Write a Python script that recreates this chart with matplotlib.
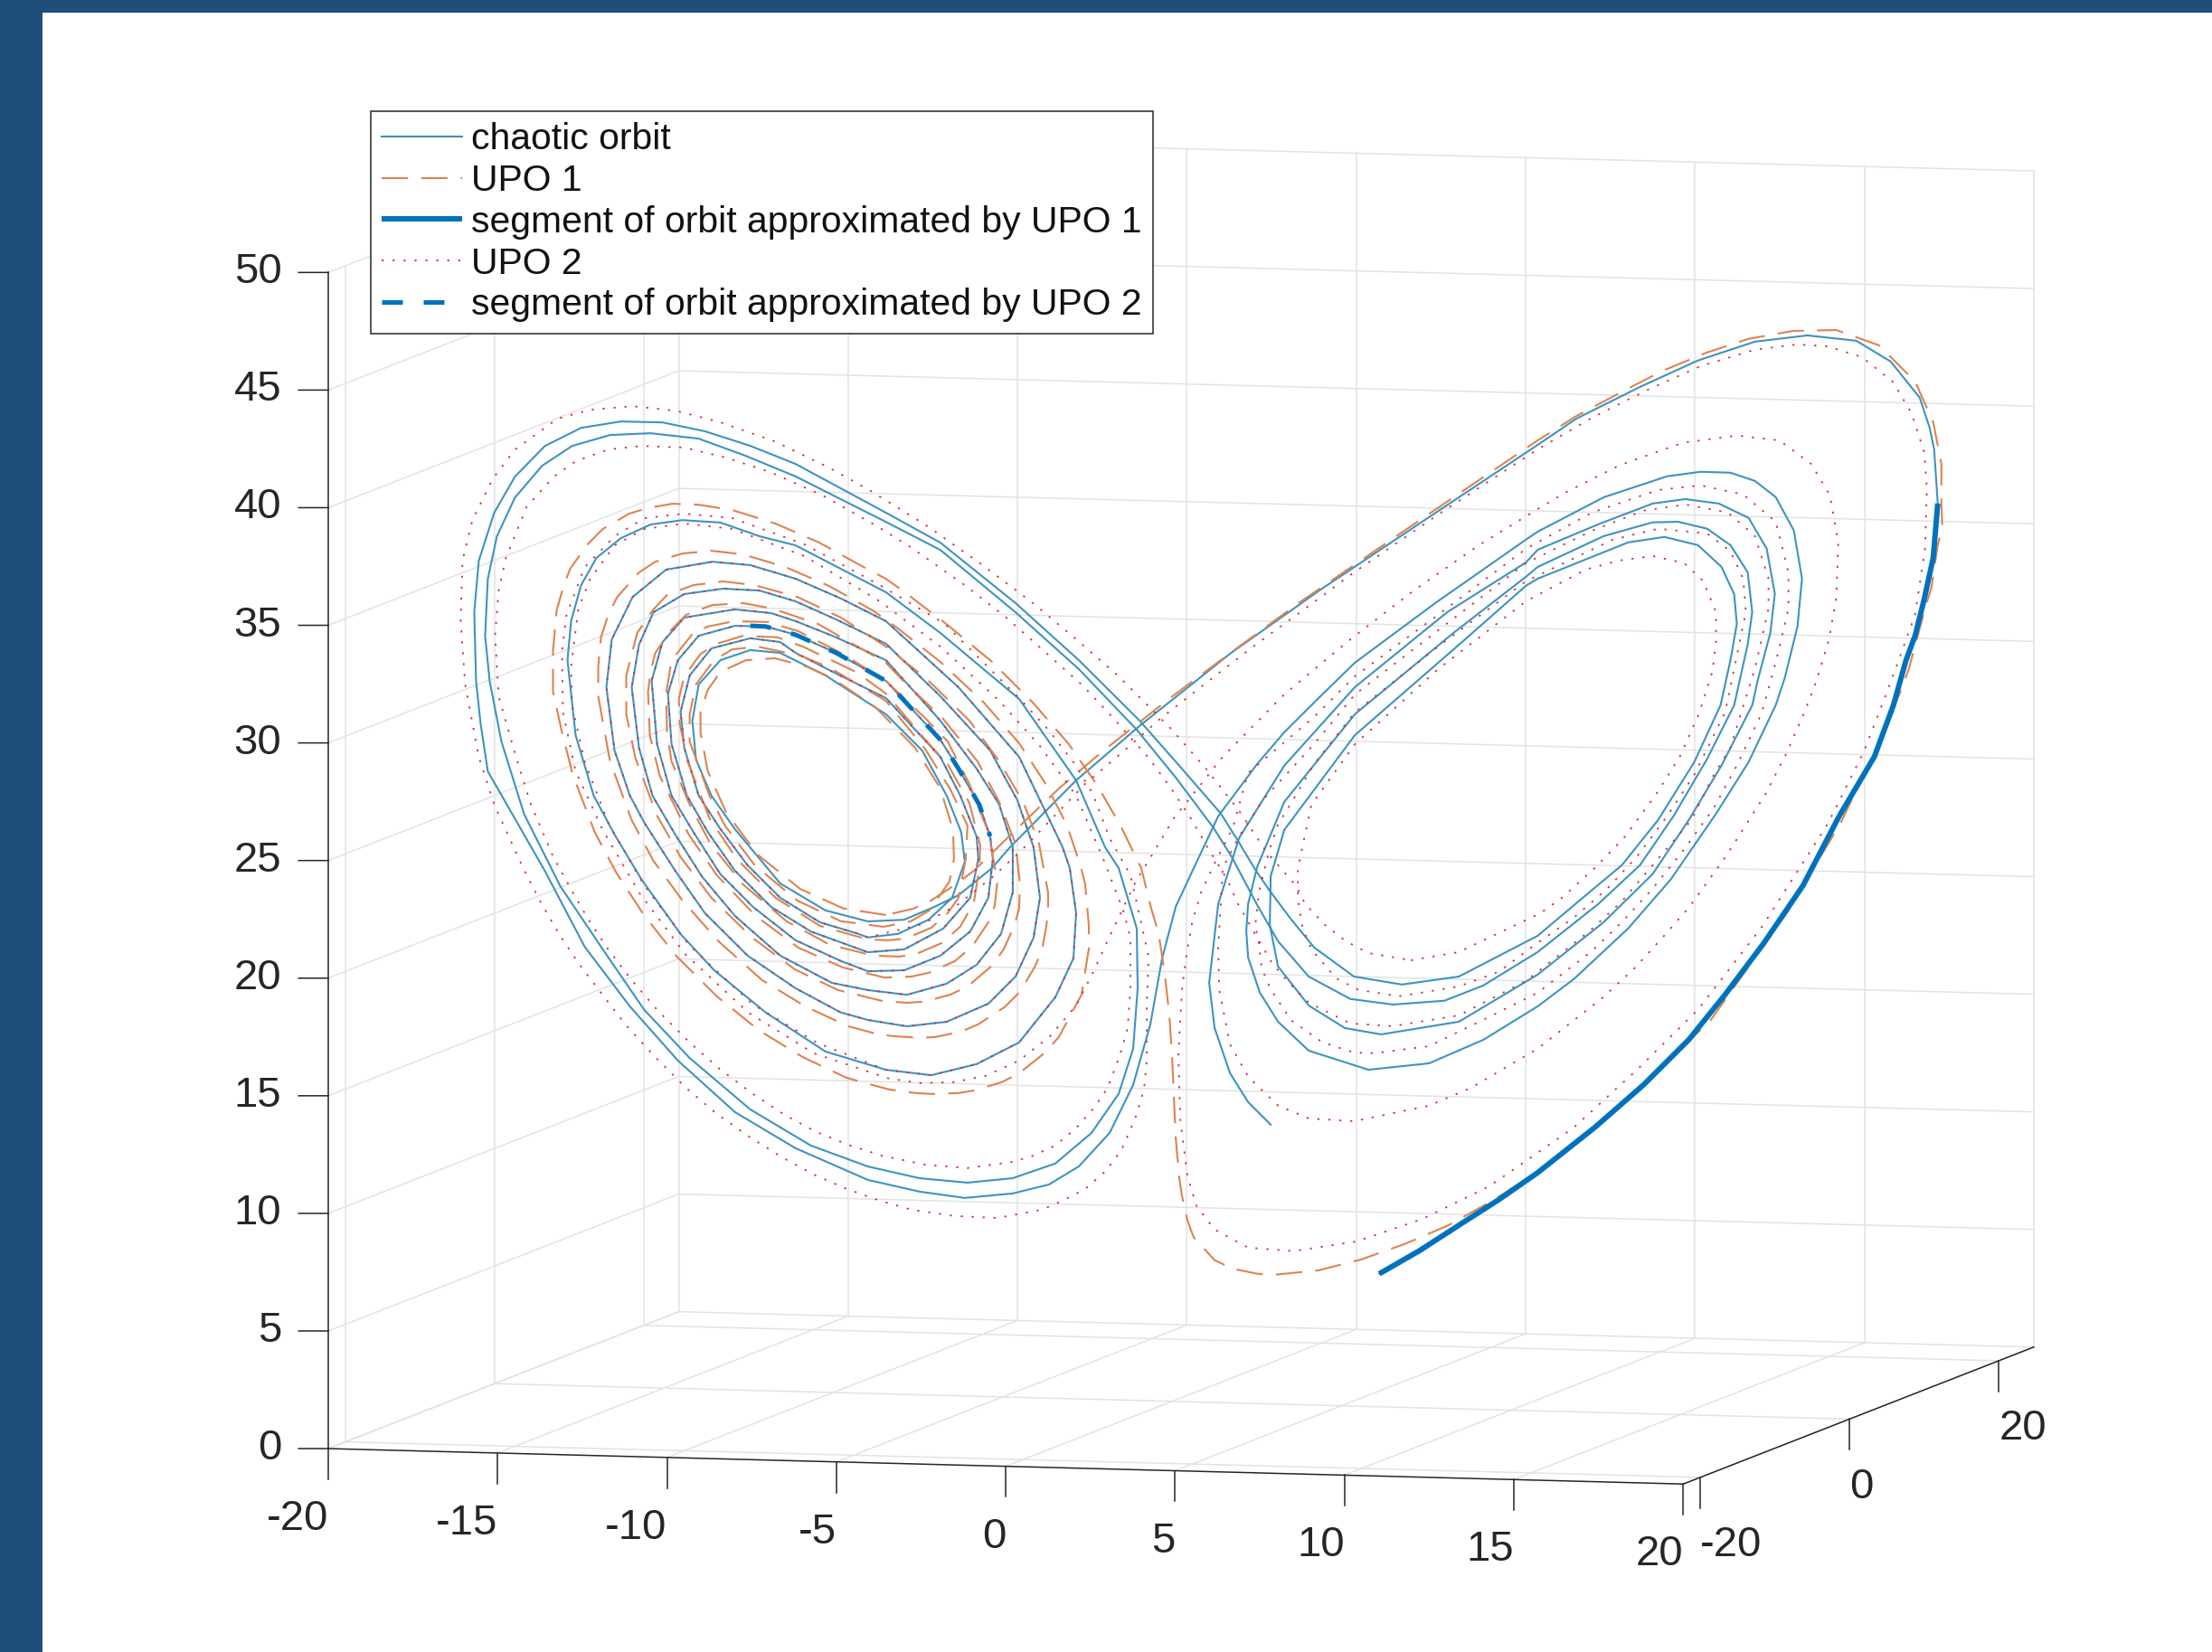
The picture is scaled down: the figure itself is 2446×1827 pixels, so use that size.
import numpy as np
import matplotlib
matplotlib.use("Agg")
import matplotlib.pyplot as plt
from matplotlib.patches import Rectangle

plt.rcParams['font.family'] = ['Liberation Sans', 'DejaVu Sans']

x_ticks = [-20, -15, -10, -5, 0, 5, 10, 15, 20]
y_ticks = [-20, 0, 20]
z_ticks = [0, 5, 10, 15, 20, 25, 30, 35, 40, 45, 50]
x_lim = (-20, 20)
y_lim = (-22.3, 24.7)
z_lim = (0, 50)

legend_labels = ["chaotic orbit", "UPO 1", "segment of orbit approximated by UPO 1",
                 "UPO 2", "segment of orbit approximated by UPO 2"]

# values read as (x, z). one view can't give the depth, so y follows x (see y_per_x)
y_per_x = 1.526

# thick part of the orbit, UPO 1 segment
segment1 = [(4.58, 4.73), (5.48, 5.59), (6.34, 6.53), (7.22, 7.48), (8.08, 8.50), (9.34, 10.23), (10.42, 11.88),
            (11.42, 13.65), (12.22, 15.44), (13.08, 17.51), (13.94, 19.81), (14.74, 22.64), (15.52, 25.06),
            (15.94, 27.18), (16.22, 29.06), (16.42, 30.07), (16.62, 31.58), (16.82, 33.32), (16.92, 35.61)]

# big right lobe, diagonal, then innermost turn on the left
chaotic_head = [(16.84, 37.93), (16.74, 38.86), (16.52, 40.17), (15.88, 41.80), (15.12, 42.80), (14.04, 43.19),
                (12.88, 43.10), (11.62, 42.49), (10.34, 41.56), (8.94, 40.43), (8.08, 39.44), (5.68, 36.73),
                (3.28, 34.01), (1.28, 31.59), (-0.72, 28.82), (-2.12, 26.72), (-3.58, 24.10), (-3.98, 23.27),
                (-4.72, 22.23), (-5.26, 21.81), (-5.92, 21.37), (-6.72, 21.42), (-7.66, 22.03), (-8.66, 23.33),
                (-9.66, 25.79), (-10.18, 27.29), (-10.52, 28.88), (-10.60, 30.54), (-10.46, 32.06), (-9.98, 33.02),
                (-9.32, 33.35), (-8.66, 33.13), (-7.66, 32.02), (-6.32, 30.16), (-5.52, 28.50), (-4.98, 26.50),
                (-4.66, 24.91), (-4.58, 23.63), (-4.86, 22.14), (-5.38, 21.29), (-6.06, 20.79)]

# inner left turns, UPO 2 runs on top of the orbit here
spiral = [(-6.72, 20.74), (-6.98, 20.96), (-7.78, 21.54), (-8.66, 22.72), (-9.38, 24.21), (-9.98, 25.84),
          (-10.46, 27.33), (-10.78, 29.42), (-10.86, 30.96), (-10.66, 32.47), (-10.18, 33.55), (-9.32, 33.85),
          (-8.66, 33.59), (-8.32, 33.08), (-7.42, 32.06), (-6.32, 30.85), (-5.12, 28.17), (-4.68, 26.46),
          (-4.32, 24.67), (-4.28, 23.71), (-4.46, 22.08), (-5.06, 20.86), (-5.92, 20.11), (-6.72, 20.11),
          (-7.98, 21.18), (-8.86, 22.36), (-9.66, 24.02), (-10.26, 25.76),
          (-10.72, 27.37), (-11.06, 29.61), (-11.14, 31.77), (-10.92, 33.16), (-10.46, 34.13), (-9.66, 34.43),
          (-8.98, 34.30), (-8.32, 33.85), (-7.42, 32.94), (-6.32, 31.58), (-5.12, 28.90), (-4.72, 27.61),
          (-4.26, 26.01), (-4.02, 24.63), (-3.96, 23.66), (-4.06, 22.02), (-4.46, 20.65), (-5.12, 19.72),
          (-5.92, 19.22), (-6.72, 19.30), (-7.32, 19.83), (-8.32, 20.86), (-9.26, 22.42), (-9.98, 23.92),
          (-10.58, 25.81), (-11.06, 27.42), (-11.38, 29.66), (-11.50, 32.37), (-11.26, 33.98), (-10.78, 34.95),
          (-9.66, 35.13), (-8.86, 34.85), (-8.32, 34.43), (-7.42, 33.60), (-6.32, 32.46), (-5.12, 29.71),
          (-4.32, 27.55), (-3.82, 25.95), (-3.52, 24.09), (-3.52, 22.17), (-3.78, 20.44), (-4.32, 19.21),
          (-4.98, 18.51), (-5.86, 18.17), (-6.72, 18.50), (-7.52, 18.93), (-8.66, 20.26), (-9.66, 22.10), (-10.38, 23.86),
          (-10.98, 25.76), (-11.48, 27.48), (-11.78, 29.57), (-11.94, 32.16), (-11.78, 33.95), (-11.46, 35.28),
          (-10.78, 35.95), (-9.92, 36.05), (-9.12, 35.85), (-8.32, 35.27), (-7.42, 34.36), (-6.32, 33.16),
          (-5.12, 30.75), (-4.02, 28.28), (-3.42, 26.08), (-3.06, 24.02), (-2.92, 21.85), (-3.06, 20.18),
          (-3.46, 18.58), (-4.06, 17.52), (-4.98, 16.89), (-5.86, 16.83), (-6.72, 17.23), (-7.32, 17.64), (-8.32, 18.82),
          (-9.38, 20.37), (-10.32, 22.31), (-10.98, 24.22), (-11.66, 26.36), (-11.98, 27.56), (-12.32, 29.53),
          (-12.50, 32.25), (-12.38, 34.27), (-11.92, 36.00), (-11.18, 37.05), (-10.16, 37.23), (-9.32, 36.96),
          (-8.32, 36.23), (-7.32, 35.24), (-6.32, 34.12), (-4.72, 31.07), (-3.38, 27.91), (-2.42, 23.93), (-2.26, 23.01),
          (-2.12, 21.07), (-2.18, 19.16), (-2.58, 17.57), (-3.38, 15.77), (-4.32, 14.99), (-5.32, 14.67), (-6.32, 15.05)]

# outer left turns and the turns on the right, up to the open end of the orbit
chaotic_tail = [(-7.66, 16.03), (-8.98, 17.89), (-10.12, 19.86), (-10.86, 21.51), (-11.72, 23.95), (-12.32, 25.96),
                (-12.78, 27.68), (-13.18, 30.31), (-13.36, 33.53), (-13.28, 35.18), (-13.06, 36.67), (-12.72, 37.78),
                (-12.18, 38.54), (-11.52, 39.02), (-10.82, 39.10), (-9.98, 38.87), (-9.12, 38.16), (-8.32, 37.65),
                (-6.32, 35.35), (-5.12, 33.44), (-3.38, 30.37), (-2.12, 26.72), (-1.48, 23.78), (-1.18, 22.85),
                (-0.78, 20.22), (-0.76, 17.67), (-0.86, 15.12), (-1.18, 13.25), (-1.78, 11.68), (-2.58, 10.50),
                (-3.52, 10.02), (-4.52, 9.98), (-5.58, 10.33), (-6.72, 11.00),
                (-7.98, 12.08), (-9.32, 13.82), (-10.66, 16.21), (-11.66, 18.40), (-12.58, 21.12),
                (-13.52, 23.95), (-14.32, 27.14), (-14.82, 30.30), (-15.08, 32.91), (-15.18, 34.84), (-15.12, 37.25),
                (-14.92, 39.03), (-14.52, 40.62), (-13.92, 41.88), (-13.26, 42.62), (-12.42, 42.96), (-11.52, 42.90),
                (-10.46, 42.51), (-9.42, 41.62), (-8.32, 40.58), (-6.32, 38.34), (-5.12, 36.97), (-3.46, 34.07),
                (-2.06, 31.44), (-0.78, 28.67), (0.08, 26.51), (0.92, 24.23), (1.32, 22.94), (1.88, 20.82), (2.34, 19.21),
                (3.02, 17.60), (3.94, 16.51), (4.88, 16.13), (6.02, 16.12), (6.88, 16.64), (8.08, 17.88), (9.42, 19.72),
                (10.34, 21.23), (11.08, 23.20), (11.82, 25.51), (12.42, 27.71),
                (12.72, 30.25), (12.82, 31.61), (12.72, 33.32), (12.34, 34.53), (11.82, 35.31),
                (11.18, 35.70), (10.62, 35.76), (9.54, 35.34), (8.08, 34.25), (7.82, 33.87), (6.22, 31.73), (4.04, 28.60),
                (2.48, 25.11), (1.88, 22.43), (1.68, 20.89), (1.64, 19.73), (1.68, 18.62), (1.94, 17.08),
                (2.34, 15.79), (3.02, 14.45), (4.34, 13.44), (5.68, 13.51), (6.88, 14.33), (8.08, 15.57), (8.88, 16.61),
                (10.08, 18.58), (11.02, 20.52), (12.02, 23.16), (12.74, 25.25), (13.34, 27.58),
                (13.54, 28.71), (13.82, 30.85), (13.92, 32.87), (13.74, 34.94),
                (13.34, 36.42), (12.88, 37.18), (12.34, 37.61), (11.68, 37.75), (10.94, 37.67), (9.54, 36.99),
                (8.08, 35.75), (7.82, 35.45), (5.82, 33.06), (4.04, 30.79), (3.28, 29.48), (2.48, 28.07), (1.88, 26.81),
                (1.02, 24.72), (0.48, 22.60), (0.08, 21.01), (-0.22, 18.86), (-0.48, 16.10), (-0.86, 13.58), (-1.38, 11.62),
                (-2.06, 10.30), (-2.72, 9.63), (-3.52, 9.37), (-4.58, 9.34), (-5.58, 9.76), (-6.72, 10.43),
                (-8.32, 12.02), (-9.66, 13.76), (-10.92, 16.14), (-11.98, 18.60), (-12.98, 21.29),
                (-13.86, 24.65), (-14.58, 27.18), (-15.12, 29.07), (-15.28, 31.13), (-15.38, 32.95), (-15.42, 35.88),
                (-15.32, 38.05), (-14.98, 40.04), (-14.52, 41.51), (-13.86, 42.71), (-13.06, 43.36), (-12.18, 43.50),
                (-11.26, 43.32), (-10.32, 42.80), (-9.32, 42.03), (-8.32, 41.11), (-6.32, 38.73), (-5.12, 37.28),
                (-3.46, 34.46), (-2.06, 31.82), (-0.72, 29.05), (0.18, 26.95), (1.08, 24.82), (1.48, 23.53), (1.84, 22.32),
                (2.14, 21.43), (2.62, 20.12), (3.14, 18.82), (4.02, 17.45), (5.08, 16.95), (6.34, 17.10), (8.08, 18.57),
                (9.08, 20.04), (9.94, 21.29), (10.74, 23.09), (11.54, 25.43), (12.12, 27.76), (12.34, 29.65), (12.48, 31.17),
                (12.42, 32.44), (12.14, 33.64), (11.62, 34.64), (10.88, 35.10), (10.08, 34.99), (9.08, 34.37),
                (8.08, 33.75), (7.82, 33.49), (6.48, 31.42), (4.04, 27.71), (2.48, 23.92), (2.18, 22.00), (2.16, 19.92),
                (2.34, 18.14), (3.02, 16.37), (3.82, 15.29), (4.62, 14.90), (6.34, 15.18), (8.08, 16.92), (9.54, 18.93),
                (10.62, 20.81), (11.42, 22.99), (12.14, 25.19), (12.82, 27.65), (12.94, 28.68), (13.22, 30.67),
                (13.32, 32.31), (13.14, 34.26), (12.74, 35.63), (12.08, 36.34), (11.34, 36.64), (10.62, 36.56),
                (9.42, 35.86), (8.08, 34.98), (7.82, 34.48), (6.08, 32.63), (4.04, 29.75), (2.48, 26.65), (1.48, 23.72),
                (1.02, 20.99), (0.82, 17.67), (0.94, 15.73), (1.28, 13.76), (1.68, 12.47), (2.18, 11.43)]

# dashed thick part, UPO 2 segment
segment2 = [(-9.32, 34.38), (-8.98, 34.30), (-8.32, 33.85), (-7.42, 32.94), (-6.32, 31.58), (-5.12, 28.90),
            (-4.72, 27.61), (-4.26, 26.01), (-4.02, 24.63)]

# UPO 1: left lobe from the inside out, one row per turn or so
upo1_left = [(-6.32, 21.63), (-7.26, 22.05), (-8.22, 23.03), (-9.16, 24.63), (-9.86, 26.55), (-10.26, 28.34),
             (-10.42, 30.01), (-10.42, 30.89), (-10.26, 31.80), (-9.98, 32.52), (-9.42, 32.93), (-8.78, 32.92),
             (-8.08, 32.46), (-7.52, 31.89), (-6.56, 30.51), (-5.68, 28.65), (-5.12, 26.83), (-4.84, 25.02),
             (-4.82, 23.79), (-4.92, 22.84), (-5.36, 21.68), (-5.78, 21.28), (-6.38, 21.14),
             (-7.32, 21.52), (-8.28, 22.54), (-9.22, 24.18), (-9.88, 25.97), (-10.22, 27.29), (-10.66, 29.67),
             (-10.66, 30.82), (-10.52, 32.07), (-10.12, 33.04), (-9.72, 33.44), (-9.16, 33.47), (-8.22, 32.95),
             (-7.58, 32.35), (-6.32, 30.73), (-5.46, 28.57), (-4.90, 26.76), (-4.52, 25.16), (-4.56, 23.75),
             (-4.72, 22.12), (-4.96, 21.50), (-5.32, 20.94), (-5.88, 20.57), (-6.26, 20.55), (-6.72, 20.65),
             (-7.78, 21.39), (-8.76, 22.73), (-9.62, 24.51), (-10.22, 26.33), (-10.70, 28.79), (-10.88, 30.46),
             (-10.90, 31.51), (-10.78, 32.45), (-10.42, 33.35), (-10.06, 33.73), (-9.48, 33.98), (-8.72, 33.80),
             (-8.16, 33.32), (-6.98, 32.06), (-6.32, 31.04), (-5.42, 28.88), (-4.96, 27.84), (-4.48, 26.12),
             (-4.24, 24.28), (-4.26, 23.31), (-4.38, 21.87), (-4.68, 20.89), (-5.08, 20.26), (-5.66, 19.87),
             (-6.04, 19.82), (-6.60, 19.95),
             (-7.56, 20.55), (-8.52, 21.70), (-9.48, 23.41), (-10.20, 25.25), (-10.66, 26.98), (-11.06, 28.88),
             (-11.16, 30.13), (-11.18, 31.78), (-11.06, 33.18), (-10.58, 34.27), (-10.26, 34.49), (-9.68, 34.63),
             (-8.92, 34.48), (-8.26, 33.99), (-7.32, 32.93), (-6.32, 31.58), (-5.48, 29.92), (-4.96, 28.81),
             (-4.48, 26.93), (-4.06, 24.82), (-3.86, 22.68), (-3.92, 21.65), (-4.06, 20.98), (-4.42, 20.00),
             (-4.80, 19.44), (-5.38, 19.03), (-5.76, 18.93), (-6.36, 18.98),
             (-7.28, 19.55), (-8.26, 20.54), (-9.20, 22.03), (-10.06, 23.89), (-10.68, 25.71), (-11.32, 28.30),
             (-11.54, 30.06), (-11.58, 31.92), (-11.52, 32.79), (-11.42, 33.54), (-11.08, 34.45), (-10.74, 35.06),
             (-10.16, 35.39), (-9.48, 35.37), (-8.82, 35.03), (-7.82, 34.23), (-6.88, 33.05), (-6.32, 32.35),
             (-5.96, 31.57), (-5.06, 29.78), (-4.30, 27.86), (-3.82, 26.06), (-3.46, 24.23), (-3.36, 22.49),
             (-3.38, 21.46), (-3.48, 20.78), (-3.72, 19.78), (-3.98, 19.12), (-4.52, 18.32), (-4.90, 18.03),
             (-5.48, 17.82), (-5.86, 17.83), (-6.42, 18.00)]

upo1_outer_left = [(-7.38, 18.60), (-8.34, 19.63), (-9.28, 21.12), (-10.18, 22.95), (-10.86, 24.78), (-11.38, 26.62),
                   (-11.86, 29.15), (-12.06, 31.03), (-12.06, 32.68), (-11.82, 34.45), (-11.48, 35.36), (-11.16, 35.97),
                   (-10.58, 36.30), (-9.92, 36.36), (-9.22, 36.09), (-8.28, 35.45), (-7.32, 34.43), (-6.32, 33.04),
                   (-5.42, 31.53), (-4.48, 29.62), (-3.82, 27.79), (-3.28, 25.94), (-2.94, 24.15), (-2.74, 22.05),
                   (-2.74, 21.32), (-2.78, 20.60), (-2.88, 19.57), (-3.04, 18.91), (-3.36, 17.92), (-3.70, 17.32),
                   (-4.28, 16.68), (-4.66, 16.42), (-5.24, 16.28), (-5.60, 16.30), (-6.20, 16.47), (-6.56, 16.63),
                   (-7.16, 17.03), (-8.10, 18.01), (-9.06, 19.28), (-10.00, 21.03), (-10.80, 22.88), (-11.46, 24.71),
                   (-11.94, 26.51), (-12.42, 29.09), (-12.68, 31.89), (-12.68, 33.15), (-12.62, 34.39), (-12.46, 35.32),
                   (-12.26, 36.05), (-11.78, 37.02), (-11.42, 37.42), (-10.82, 37.68), (-10.18, 37.70), (-9.48, 37.44),
                   (-8.54, 36.76), (-7.58, 35.81), (-6.62, 34.63), (-6.06, 33.78), (-5.12, 32.21), (-4.16, 30.34),
                   (-3.38, 28.49), (-2.78, 26.63), (-2.32, 24.83), (-2.02, 23.06), (-1.92, 22.27), (-1.84, 20.53),
                   (-1.84, 19.50), (-1.90, 18.81), (-2.00, 17.59), (-2.16, 17.05), (-2.50, 15.87), (-2.82, 15.23),
                   (-3.38, 14.46), (-3.76, 14.14), (-4.36, 13.88), (-4.72, 13.82), (-5.30, 13.87), (-5.66, 13.96),
                   (-6.26, 14.21), (-6.62, 14.45),
                   (-7.20, 14.85), (-8.16, 15.87), (-9.12, 17.14), (-10.06, 18.74), (-10.96, 20.60), (-11.68, 22.47),
                   (-12.28, 24.33), (-12.76, 26.14), (-13.24, 28.63), (-13.48, 30.48), (-13.68, 32.24), (-13.68, 33.97),
                   (-13.60, 35.68), (-13.44, 36.73), (-13.30, 37.41), (-12.92, 38.38), (-12.58, 38.99), (-12.00, 39.55),
                   (-11.62, 39.72), (-11.04, 39.83), (-10.46, 39.70), (-9.70, 39.35), (-8.76, 38.64), (-7.80, 37.69),
                   (-6.86, 36.55), (-6.32, 35.92), (-5.88, 35.25), (-4.94, 33.72), (-3.98, 32.04), (-3.08, 30.18),
                   (-2.28, 28.28), (-1.66, 26.46), (-1.14, 24.65), (-0.68, 22.77), (-0.46, 21.02), (-0.30, 19.96),
                   (-0.16, 18.20), (-0.06, 16.42), (0.00, 14.68), (0.04, 12.94), (0.08, 11.21), (0.16, 9.47)]

upo1_right = [(0.22, 8.69), (0.34, 7.64), (0.48, 6.89), (0.94, 5.86), (1.32, 5.45), (1.88, 5.14), (2.28, 5.04),
              (3.24, 5.08), (4.18, 5.40), (5.14, 5.91), (6.12, 6.57), (7.08, 7.46), (8.02, 8.47), (9.08, 9.78),
              (10.48, 12.06), (11.88, 14.35), (13.58, 18.70), (14.78, 22.37), (15.58, 25.51), (16.08, 27.66),
              (16.28, 28.67), (16.64, 31.19), (16.78, 32.06), (16.92, 33.84), (17.02, 34.59), (17.00, 35.59),
              (17.00, 37.28), (16.82, 39.08), (16.42, 40.87), (15.62, 42.53), (14.68, 43.32), (13.72, 43.43),
              (12.74, 43.24), (11.82, 42.80), (10.84, 42.17), (9.88, 41.36), (8.94, 40.54), (8.08, 39.63),
              (5.48, 36.64), (2.82, 33.54), (1.32, 31.66), (-0.04, 29.91), (-1.56, 27.83), (-2.52, 26.40),
              (-3.46, 24.81), (-4.38, 23.22), (-4.78, 22.70), (-5.36, 22.06), (-5.72, 21.81), (-6.32, 21.63)]

# UPO 2: right lobes first, the spiral is shared with the orbit
upo2_right = [(5.28, 17.95), (6.34, 18.14), (7.22, 18.82), (8.14, 19.52), (8.62, 20.11), (9.34, 21.26), (9.98, 22.43),
              (10.68, 24.14), (11.22, 25.71), (11.64, 27.45), (11.94, 29.21), (12.02, 30.46), (12.02, 31.73),
              (11.74, 33.09), (11.32, 33.92), (10.62, 34.33), (9.88, 34.25), (9.14, 33.98), (7.82, 32.83),
              (5.88, 30.24), (4.04, 27.33), (3.08, 24.90), (2.88, 23.13), (2.78, 22.18), (2.78, 20.95), (2.88, 19.71),
              (3.08, 18.75), (3.62, 17.44), (4.12, 16.87), (5.02, 16.46), (6.34, 16.68), (7.22, 17.17), (8.08, 18.27),
              (8.88, 19.22), (9.62, 20.34), (10.28, 21.62), (10.94, 23.22), (11.54, 24.89), (12.22, 27.44),
              (12.42, 29.25), (12.68, 31.64), (12.62, 33.06), (12.34, 34.27), (11.82, 35.11), (10.74, 35.47),
              (9.74, 35.16), (7.82, 33.68), (5.88, 31.20), (4.04, 28.68), (3.14, 26.62), (2.62, 25.00), (2.34, 24.17),
              (2.14, 23.05), (1.92, 21.35), (1.84, 19.97), (1.92, 19.16), (1.98, 18.11), (2.18, 17.19), (2.62, 15.82),
              (3.32, 14.76), (4.02, 14.22), (4.48, 14.12), (5.68, 14.24), (7.08, 15.34), (8.08, 16.15), (9.28, 17.74),
              (9.98, 18.94), (10.62, 20.19), (11.34, 21.81), (11.98, 23.44), (12.48, 25.14), (13.02, 27.24),
              (13.34, 29.39), (13.62, 31.64), (13.62, 33.18), (13.34, 35.38), (12.62, 36.64), (11.68, 37.17),
              (10.74, 37.12), (9.28, 36.38), (7.82, 35.06), (5.88, 32.55), (4.04, 30.21), (3.14, 28.62), (1.68, 26.46),
              (1.34, 24.17), (0.94, 22.73), (0.64, 21.54), (0.44, 20.26), (0.32, 18.97), (0.22, 17.49), (0.14, 14.74),
              (0.18, 12.00), (0.34, 9.52), (0.54, 8.22), (0.94, 7.16), (1.68, 6.28), (2.68, 5.98), (4.08, 6.18),
              (5.54, 6.92), (7.02, 8.09), (8.14, 9.42), (8.88, 10.30), (10.28, 12.55), (11.62, 14.89), (13.04, 18.21),
              (14.48, 22.33), (15.28, 25.28), (15.74, 27.48), (16.08, 29.20), (16.42, 30.96), (16.64, 33.73),
              (16.68, 36.30), (16.62, 37.84), (16.34, 39.54), (15.92, 40.95), (15.24, 42.09), (14.48, 42.66),
              (13.82, 42.84), (12.88, 42.76), (11.68, 42.24), (10.48, 41.39), (9.28, 40.41), (8.08, 39.25),
              (5.94, 36.88), (4.02, 34.63), (3.08, 33.43), (1.88, 31.93), (0.94, 30.68), (-0.26, 29.06), (-0.98, 27.94),
              (-1.92, 26.54), (-3.26, 24.05), (-3.92, 22.96), (-4.72, 21.85), (-5.52, 21.12)]

upo2_left1 = [(-7.82, 16.40), (-9.26, 18.27), (-10.66, 20.98), (-11.68, 23.74), (-12.46, 26.48), (-12.98, 29.17),
              (-13.26, 31.59), (-13.28, 33.25), (-13.12, 35.68), (-12.86, 36.91), (-12.32, 38.25), (-11.66, 38.85),
              (-10.78, 38.95), (-9.72, 38.56), (-8.12, 37.16), (-6.46, 34.99), (-5.12, 32.86), (-3.82, 30.36),
              (-2.92, 28.30), (-2.12, 26.07), (-1.52, 23.29), (-1.08, 21.03), (-0.92, 19.86), (-0.92, 17.70),
              (-0.98, 16.02), (-1.16, 14.86), (-1.42, 13.55), (-1.72, 12.75), (-2.12, 11.93), (-2.58, 11.27),
              (-3.06, 10.91), (-3.54, 10.71), (-4.52, 10.60), (-5.46, 10.89), (-6.42, 11.42), (-7.12, 11.96),
              (-7.86, 12.64), (-8.56, 13.47), (-9.26, 14.47), (-9.98, 15.61), (-10.68, 16.91), (-11.36, 18.32),
              (-11.96, 19.76), (-12.46, 21.10), (-12.92, 22.51), (-13.32, 23.92), (-13.68, 25.24), (-14.18, 27.58),
              (-14.52, 29.75), (-14.88, 32.23), (-14.96, 34.81), (-14.88, 36.72), (-14.72, 38.08), (-14.26, 40.20),
              (-13.66, 41.38), (-13.18, 41.96), (-12.46, 42.35), (-11.72, 42.39), (-10.78, 42.18), (-9.86, 41.61),
              (-8.88, 40.85), (-7.72, 39.68), (-6.48, 38.14), (-5.78, 37.19), (-4.58, 35.39), (-3.66, 33.87),
              (-2.72, 32.12), (-1.98, 30.74), (-1.32, 29.29), (-0.52, 27.44), (-0.02, 26.06), (0.44, 24.64),
              (0.84, 23.24), (1.22, 22.00)]

upo2_right2 = [(1.44, 20.99), (1.82, 19.64), (2.22, 18.26), (2.62, 17.32), (3.02, 16.49), (3.94, 15.47), (4.88, 15.21),
               (6.34, 15.45), (7.82, 16.69), (8.28, 17.31), (9.22, 18.59), (9.94, 19.75), (10.74, 21.44), (11.48, 22.98),
               (11.94, 24.72), (12.34, 25.93), (12.88, 29.19), (13.18, 31.71), (13.18, 32.98), (12.88, 34.84),
               (12.28, 35.93), (11.34, 36.41), (10.42, 36.29), (9.28, 35.61), (7.82, 34.45), (5.88, 31.89), (4.04, 29.44),
               (3.14, 27.47), (2.02, 25.29), (1.48, 23.80), (1.12, 22.50), (1.02, 19.14), (1.04, 17.36), (1.28, 14.99),
               (1.68, 13.55), (2.34, 12.22), (3.02, 11.57), (4.02, 11.30), (5.68, 11.71), (6.62, 12.34), (8.08, 13.77),
               (9.48, 15.67), (10.20, 16.83), (10.84, 18.08), (11.42, 19.26), (12.24, 21.32), (13.12, 23.85),
               (13.58, 25.51), (13.98, 27.21), (14.24, 28.48), (14.52, 30.21), (14.68, 31.98), (14.72, 34.29),
               (14.54, 36.31), (14.12, 37.72), (13.42, 38.82), (12.48, 39.17), (11.28, 39.04), (9.88, 38.29),
               (8.68, 37.31), (8.08, 36.71), (6.78, 35.37), (5.34, 33.66), (3.92, 31.77), (2.48, 29.68), (1.12, 27.23),
               (0.04, 24.78), (-0.52, 23.06), (-0.78, 22.30), (-1.28, 20.37), (-1.76, 18.45), (-2.12, 17.15),
               (-2.68, 15.96), (-3.38, 15.00), (-4.12, 14.46), (-4.82, 14.30), (-5.56, 14.37), (-6.26, 14.67)]

upo2_left2 = [(-7.92, 16.00), (-9.36, 17.94), (-10.76, 20.64), (-11.78, 23.42), (-12.58, 26.19), (-13.18, 28.78),
              (-13.46, 31.35), (-13.48, 33.94), (-13.38, 35.46), (-12.98, 37.43), (-12.32, 38.64), (-11.66, 39.31),
              (-10.78, 39.37), (-9.72, 39.02), (-8.12, 37.66), (-6.46, 35.68), (-5.02, 33.81), (-3.32, 30.28),
              (-2.72, 28.93), (-2.18, 27.50), (-1.76, 26.13), (-1.38, 24.15), (-0.92, 22.51), (-0.76, 21.13),
              (-0.52, 18.99), (-0.56, 16.80), (-0.56, 14.57), (-0.62, 13.35), (-0.82, 12.11), (-1.12, 10.85),
              (-1.46, 10.02), (-1.92, 9.32), (-2.42, 8.90), (-2.88, 8.58), (-3.86, 8.38), (-4.82, 8.61), (-5.76, 9.02),
              (-6.46, 9.51), (-7.18, 10.11), (-7.88, 10.80), (-8.62, 11.68), (-9.32, 12.63), (-10.06, 13.74),
              (-10.76, 14.99), (-11.46, 16.45), (-12.08, 17.85), (-12.62, 19.28), (-13.12, 20.62), (-13.56, 21.96),
              (-13.96, 23.36), (-14.32, 24.76), (-14.96, 27.55), (-15.32, 29.71), (-15.62, 32.84), (-15.72, 35.54),
              (-15.68, 38.11), (-15.46, 39.80), (-15.02, 41.47), (-14.52, 42.66), (-13.58, 43.83), (-12.86, 44.10),
              (-11.92, 44.11), (-10.96, 43.77), (-9.98, 43.13), (-8.78, 42.14), (-7.58, 40.84), (-6.66, 39.71),
              (-5.46, 38.10), (-4.26, 36.30), (-3.08, 34.41), (-2.12, 32.72), (-1.18, 31.00), (-0.02, 28.59),
              (0.78, 26.71), (1.48, 24.88), (2.08, 23.06), (2.74, 21.50), (2.94, 20.70), (3.38, 19.74), (3.84, 18.98),
              (4.34, 18.40), (5.28, 17.95)]


def to_xyz(points):
    pts = np.array(points)
    return pts[:, 0], pts[:, 0] * y_per_x, pts[:, 1]


chaotic = segment1 + chaotic_head + spiral + chaotic_tail
upo1 = upo1_left + upo1_outer_left + upo1_right
upo2 = upo2_right + spiral + upo2_left1 + upo2_right2 + upo2_left2

fig = plt.figure(figsize=(24.46, 18.27), dpi=100, facecolor='white')
fig.add_artist(Rectangle((0, 0), 47 / 2446, 1, transform=fig.transFigure, color='#1F4E79', lw=0))
fig.add_artist(Rectangle((0, 1 - 14 / 1827), 1, 14 / 1827, transform=fig.transFigure, color='#1F4E79', lw=0))

# axes bigger than the box so that nothing gets clipped at the axes edge
ax = fig.add_axes([35 / 2446, -339.5 / 1827, 2475 / 2446, 2475 / 1827], projection='3d',
                  proj_type='ortho', computed_zorder=False)
ax.set_axis_off()
ax.view_init(elev=5.8, azim=-75.5)
ax.set_box_aspect((992, 992, 838), zoom=1.0)
ax.set_xlim(*x_lim, view_margin=0)
ax.set_ylim(*y_lim, view_margin=0)
ax.set_zlim(*z_lim, view_margin=0)

grid = dict(color='#E3E3E3', lw=1.1, zorder=1)
x0, x1 = x_lim
y0, y1 = y_lim
z0, z1 = z_lim
for v in x_ticks:
    ax.plot([v, v], [y1, y1], [z0, z1], **grid)
    ax.plot([v, v], [y0, y1], [z0, z0], **grid)
for v in y_ticks:
    ax.plot([x0, x0], [v, v], [z0, z1], **grid)
    ax.plot([x0, x1], [v, v], [z0, z0], **grid)
for v in z_ticks:
    ax.plot([x0, x1], [y1, y1], [v, v], **grid)
    ax.plot([x0, x0], [y0, y1], [v, v], **grid)

# axis lines, ticks and labels by hand, matlab puts them differently from mplot3d
dark = dict(color='#262626', lw=1.1, zorder=2)
ax.plot([x0, x1], [y0, y0], [z0, z0], **dark)
ax.plot([x1, x1], [y0, y1], [z0, z0], **dark)
ax.plot([x0, x0], [y0, y0], [z0, z1], **dark)
for v in x_ticks:
    ax.plot([v, v], [y0, y0], [z0, -1.3], **dark)
    ax.text(v, y0, -3.0, str(v), ha='right', va='center', fontsize=34, color='#262626')
for v in y_ticks:
    ax.plot([x1, x1], [v, v], [z0, -1.3], **dark)
    ax.text(x1, v, -2.9, str(v), ha='left', va='center', fontsize=34, color='#262626')
for v in z_ticks:
    ax.plot([x0, x0 - 0.82], [y0, y0 - 0.25], [v, v], **dark)
    ax.text(x0 - 1.29, y0 - 0.39, v, str(v), ha='right', va='center', fontsize=34, color='#262626')

h1, = ax.plot(*to_xyz(chaotic), color='#3F93BE', lw=1.5, zorder=3)
h2, = ax.plot(*to_xyz(upo1), color='#DD8350', lw=1.5, linestyle=(0, (14, 7)), zorder=4)
h3, = ax.plot(*to_xyz(segment1), color='#0072BD', lw=4.3, solid_capstyle='butt', zorder=5)
h4, = ax.plot(*to_xyz(upo2), color='#D0304A', lw=1.3, linestyle=(0, (1.3, 5.4)), zorder=6)
h5, = ax.plot(*to_xyz(segment2), color='#0072BD', lw=3.6, linestyle=(0, (4.6, 4.6)), zorder=7)

leg = fig.legend([h1, h2, h3, h4, h5], legend_labels, loc='upper left',
                 bbox_to_anchor=(410 / 2446, 1 - 123 / 1827), borderaxespad=0, fontsize=29.4,
                 fancybox=False, framealpha=1, edgecolor='#262626', handlelength=2.18,
                 handletextpad=0.23, labelspacing=0.19, borderpad=0.3, labelcolor='#111111')
leg.get_frame().set_linewidth(1.1)

fig.savefig("out.png", dpi=100)
